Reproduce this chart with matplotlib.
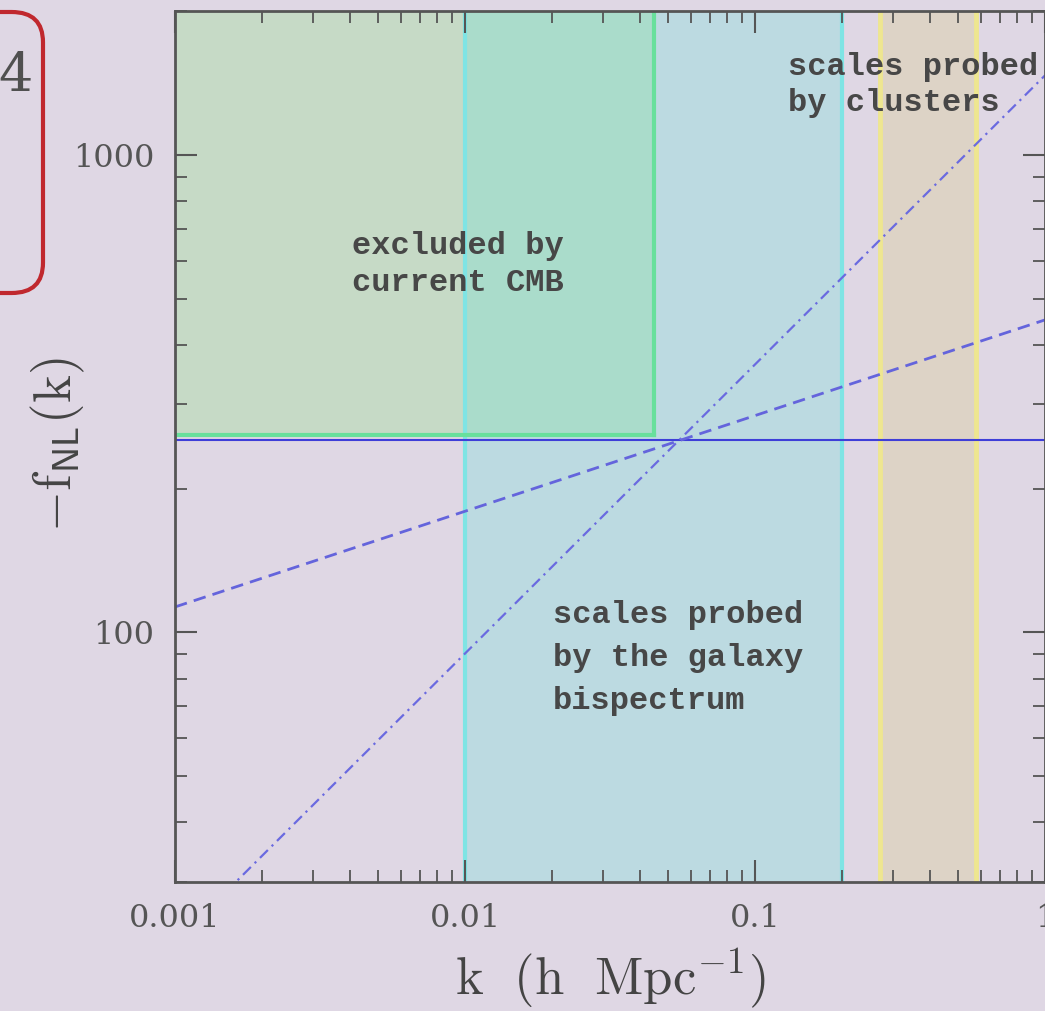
import matplotlib
matplotlib.use("Agg")
import matplotlib.pyplot as plt
from matplotlib.patches import FancyBboxPatch
from matplotlib.ticker import LogLocator, FixedLocator, FixedFormatter, NullFormatter

# Wavenumber ranges (h/Mpc) of the shaded regions
cmb_k = [0.001, 0.045]        # excluded by current CMB
cmb_fnl_min = 259             # lower edge of the CMB exclusion
galaxy_k = [0.01, 0.2]        # galaxy bispectrum
cluster_k = [0.27, 0.58]      # clusters

# -f_NL(k) models (power laws, drawn between their end points)
const_k = [0.001, 1.0]
const_fnl = [253, 253]
dashed_k = [0.001, 1.0]
dashed_fnl = [113, 451]
dashdot_k = [0.001, 1.0]
dashdot_fnl = [22.4, 1466]

xticks = [0.001, 0.01, 0.1, 1]
xtick_labels = ["0.001", "0.01", "0.1", "1"]
yticks = [100, 1000]
ytick_labels = ["100", "1000"]
xlim = (0.001, 1.0)
ylim = (30, 2000)

BG = "#dfd7e4"
W, H = 1045, 1011
plt.rcParams["mathtext.fontset"] = "cm"

fig = plt.figure(figsize=(W / 100, H / 100), dpi=100, facecolor=BG)
ax = fig.add_axes([175 / W, 129 / H, 870 / W, 871 / H], facecolor=BG)
ax.set_xscale("log")
ax.set_yscale("log")
ax.set_xlim(*xlim)
ax.set_ylim(*ylim)

# shaded regions
ax.axvspan(galaxy_k[0], galaxy_k[1], color="#bcdae1", lw=0, zorder=1)
ax.axvspan(cluster_k[0], cluster_k[1], color="#ddd3c6", lw=0, zorder=1)
ax.fill_between(cmb_k, cmb_fnl_min, ylim[1], color="#c6dac6", lw=0, zorder=1.1)
ov = [max(cmb_k[0], galaxy_k[0]), min(cmb_k[1], galaxy_k[1])]
ax.fill_between(ov, cmb_fnl_min, ylim[1], color="#aadccb", lw=0, zorder=1.2)

# region borders
for k in galaxy_k:
    ax.axvline(k, color="#7fe4e4", lw=3, zorder=1.5)
for k in cluster_k:
    ax.axvline(k, color="#eee690", lw=3.5, zorder=1.5)
ax.plot([cmb_k[1], cmb_k[1]], [cmb_fnl_min, ylim[1]], color="#68e09c", lw=3, zorder=1.6)
ax.plot(cmb_k, [cmb_fnl_min, cmb_fnl_min], color="#68e09c", lw=3, zorder=1.6)

# model curves
ax.plot(const_k, const_fnl, color="#3e3ed8", lw=1.5, zorder=3)
ax.plot(dashed_k, dashed_fnl, color="#6464dc", lw=2.0, ls=(0, (4.5, 2.6)), zorder=3)
ax.plot(dashdot_k, dashdot_fnl, color="#6a6ae0", lw=1.6, ls=(0, (5, 2.4, 1, 2.4)), zorder=3)

# annotations
tkw = dict(transform=ax.transAxes, family="Liberation Mono", fontsize=23,
           weight="bold", color="#474747", ha="left", va="top", zorder=4)
ax.text(0.2034, 0.747, "excluded by\ncurrent CMB", linespacing=1.27, **tkw)
ax.text(0.4345, 0.324, "scales probed\nby the galaxy\nbispectrum", linespacing=1.58, **tkw)
ax.text(0.7046, 0.953, "scales probed\nby clusters", linespacing=1.27, **tkw)

# axes styling
ax.xaxis.set_major_locator(FixedLocator(xticks))
ax.xaxis.set_major_formatter(FixedFormatter(xtick_labels))
ax.xaxis.set_minor_locator(LogLocator(base=10, subs=range(2, 10)))
ax.xaxis.set_minor_formatter(NullFormatter())
ax.yaxis.set_major_locator(FixedLocator(yticks))
ax.yaxis.set_major_formatter(FixedFormatter(ytick_labels))
ax.yaxis.set_minor_locator(LogLocator(base=10, subs=range(2, 10)))
ax.yaxis.set_minor_formatter(NullFormatter())

ax.tick_params(which="both", direction="in", top=True, right=True, colors="#555555")
ax.tick_params(which="major", length=16, width=1.5, pad=15, labelsize=23)
ax.tick_params(which="minor", length=8.5, width=1.3)
for lab in ax.get_xticklabels() + ax.get_yticklabels():
    lab.set_family("DejaVu Serif")
    lab.set_color("#555555")
for sp in ax.spines.values():
    sp.set_linewidth(2)
    sp.set_color("#555555")
    sp.set_zorder(5)

fig.text(610 / W, 1 - 978 / H, r"$\mathrm{k\ \ (h\ \ Mpc^{-1})}$", fontsize=38,
         color="#444444", ha="center", va="center")
fig.text(58 / W, 1 - 445 / H, r"$-\mathrm{f}_{\mathsf{NL}}(\mathrm{k})$", fontsize=38,
         color="#444444", ha="center", va="center", rotation=90)

# slide box at the left edge
box = FancyBboxPatch((-60 / W, 1 - 293 / H), 103 / W, 281 / H,
                     boxstyle="round,pad=0,rounding_size=0.03",
                     transform=fig.transFigure, ec="#c0282e", fc="none", lw=3)
fig.add_artist(box)
fig.text(33 / W, 1 - 77 / H, "4", family="DejaVu Serif", fontsize=39,
         color="#505050", ha="right", va="center")

fig.savefig("out.png", dpi=100, facecolor=BG)
